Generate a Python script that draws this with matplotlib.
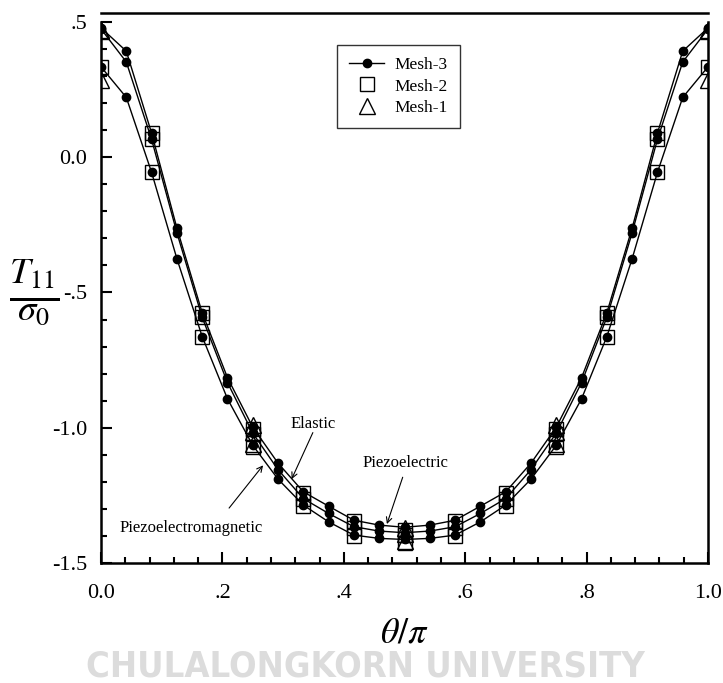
import matplotlib
matplotlib.use('Agg')
import matplotlib.pyplot as plt
import numpy as np

plt.rcParams['font.family'] = ['Liberation Serif', 'DejaVu Serif']
plt.rcParams['mathtext.fontset'] = 'stix'

# normal stress T11/sigma0 around the hole, theta/pi from 0 to 0.5 (curves are symmetric)
theta_fine = np.arange(13) / 24.0
piezoelectric_half = [0.478, 0.392, 0.089, -0.262, -0.575, -0.815, -0.998,
                      -1.131, -1.237, -1.290, -1.342, -1.360, -1.368]
elastic_half = [0.474, 0.352, 0.066, -0.279, -0.592, -0.833, -1.020,
                -1.155, -1.262, -1.317, -1.366, -1.382, -1.388]
pem_half = [0.334, 0.221, -0.056, -0.375, -0.663, -0.893, -1.065,
            -1.190, -1.286, -1.348, -1.397, -1.409, -1.413]

# Mesh-2 results at theta/pi = k/12
theta_mid = np.arange(7) / 12.0
piezoelectric_m2_half = [np.nan, 0.089, -0.575, -1.005, -1.240, -1.345, -1.378]
elastic_m2_half = [np.nan, 0.066, -0.592, -1.025, -1.265, -1.370, -1.398]
pem_m2_half = [0.334, -0.056, -0.663, -1.070, -1.290, -1.400, -1.425]

# Mesh-1 results at theta/pi = k/4
theta_coarse = np.arange(3) / 4.0
piezoelectric_m1_half = [0.470, -0.990, -1.372]
elastic_m1_half = [0.468, -1.015, -1.392]
pem_m1_half = [0.285, -1.060, -1.418]


def mirror(theta, vals):
    vals = np.array(vals)
    return np.concatenate([theta, 1 - theta[-2::-1]]), np.concatenate([vals, vals[-2::-1]])


fig = plt.figure(figsize=(7.23, 6.83), dpi=100)
ax = fig.add_axes([0.1397, 0.1757, 0.8396, 0.8053])

for half in [piezoelectric_half, elastic_half, pem_half]:
    x, y = mirror(theta_fine, half)
    ax.plot(x, y, color='black', lw=1.0, marker='o', ms=6, mfc='black', mec='black', zorder=3)

for half in [piezoelectric_m2_half, elastic_m2_half, pem_m2_half]:
    x, y = mirror(theta_mid, half)
    ax.plot(x, y, ls='none', marker='s', ms=10, mfc='none', mec='black', mew=1.0, zorder=4)

for half in [piezoelectric_m1_half, elastic_m1_half, pem_m1_half]:
    x, y = mirror(theta_coarse, half)
    ax.plot(x, y, ls='none', marker='^', ms=11, mfc='none', mec='black', mew=1.0, zorder=4)

# legend entries
h3, = ax.plot([], [], color='black', lw=1.0, marker='o', ms=6, label='Mesh-3')
h2, = ax.plot([], [], ls='none', marker='s', ms=10, mfc='none', mec='black', label='Mesh-2')
h1, = ax.plot([], [], ls='none', marker='^', ms=11, mfc='none', mec='black', label='Mesh-1')
leg = ax.legend(handles=[h3, h2, h1], loc='upper left', bbox_to_anchor=(0.389, 0.942),
                fontsize=12.5, frameon=True, fancybox=False, handlelength=2.0,
                borderpad=0.7, labelspacing=0.3, handletextpad=0.6, borderaxespad=0)
leg.get_frame().set_edgecolor('black')
leg.get_frame().set_linewidth(1.0)

# curve labels
arrow = dict(arrowstyle='->', color='black', lw=0.8, shrinkA=0, shrinkB=0)
ax.text(0.35, -0.985, 'Elastic', fontsize=12, ha='center', va='center')
ax.annotate('', xy=(0.314, -1.19), xytext=(0.349, -1.018), arrowprops=arrow)
ax.text(0.502, -1.132, 'Piezoelectric', fontsize=12, ha='center', va='center')
ax.annotate('', xy=(0.471, -1.356), xytext=(0.497, -1.183), arrowprops=arrow)
ax.text(0.148, -1.37, 'Piezoelectromagnetic', fontsize=12, ha='center', va='center')
ax.annotate('', xy=(0.267, -1.139), xytext=(0.211, -1.297), arrowprops=arrow)

ax.set_xlim(0, 1)
ax.set_ylim(-1.5, 0.533)
ax.spines['left'].set_bounds(-1.5, 0.5)
ax.spines['right'].set_bounds(-1.5, 0.5)
for s in ax.spines.values():
    s.set_linewidth(1.8)

ax.set_xticks([0, 0.2, 0.4, 0.6, 0.8, 1.0])
ax.set_xticklabels(['0.0', '.2', '.4', '.6', '.8', '1.0'])
ax.set_xticks(np.arange(0, 1.001, 0.04), minor=True)
ax.set_yticks([0.5, 0.0, -0.5, -1.0, -1.5])
ax.set_yticklabels(['.5', '0.0', '-.5', '-1.0', '-1.5'])
ax.set_yticks(np.arange(-1.5, 0.501, 0.1), minor=True)
ax.tick_params(which='both', direction='in', top=False, right=False, labelsize=16, width=1.5)
ax.tick_params(which='major', length=8)
ax.tick_params(axis='y', which='major', pad=10)
ax.tick_params(axis='x', which='major', pad=15)
ax.tick_params(which='minor', length=4)

ax.set_xlabel(r'$\theta/\pi$', fontsize=26)
ax.xaxis.set_label_coords(0.5, -0.1)
ax.set_ylabel(r'$\frac{T_{11}}{\sigma_0}$', fontsize=38, rotation=0, va='center', ha='center')
ax.yaxis.set_label_coords(-0.11, 0.493)

fig.text(0.505, 0.024, 'CHULALONGKORN UNIVERSITY', fontsize=26, fontweight='bold',
         family='DejaVu Sans', fontstretch='condensed', color='#dcdcdc',
         ha='center', va='center')

fig.savefig('out.png', dpi=100)
